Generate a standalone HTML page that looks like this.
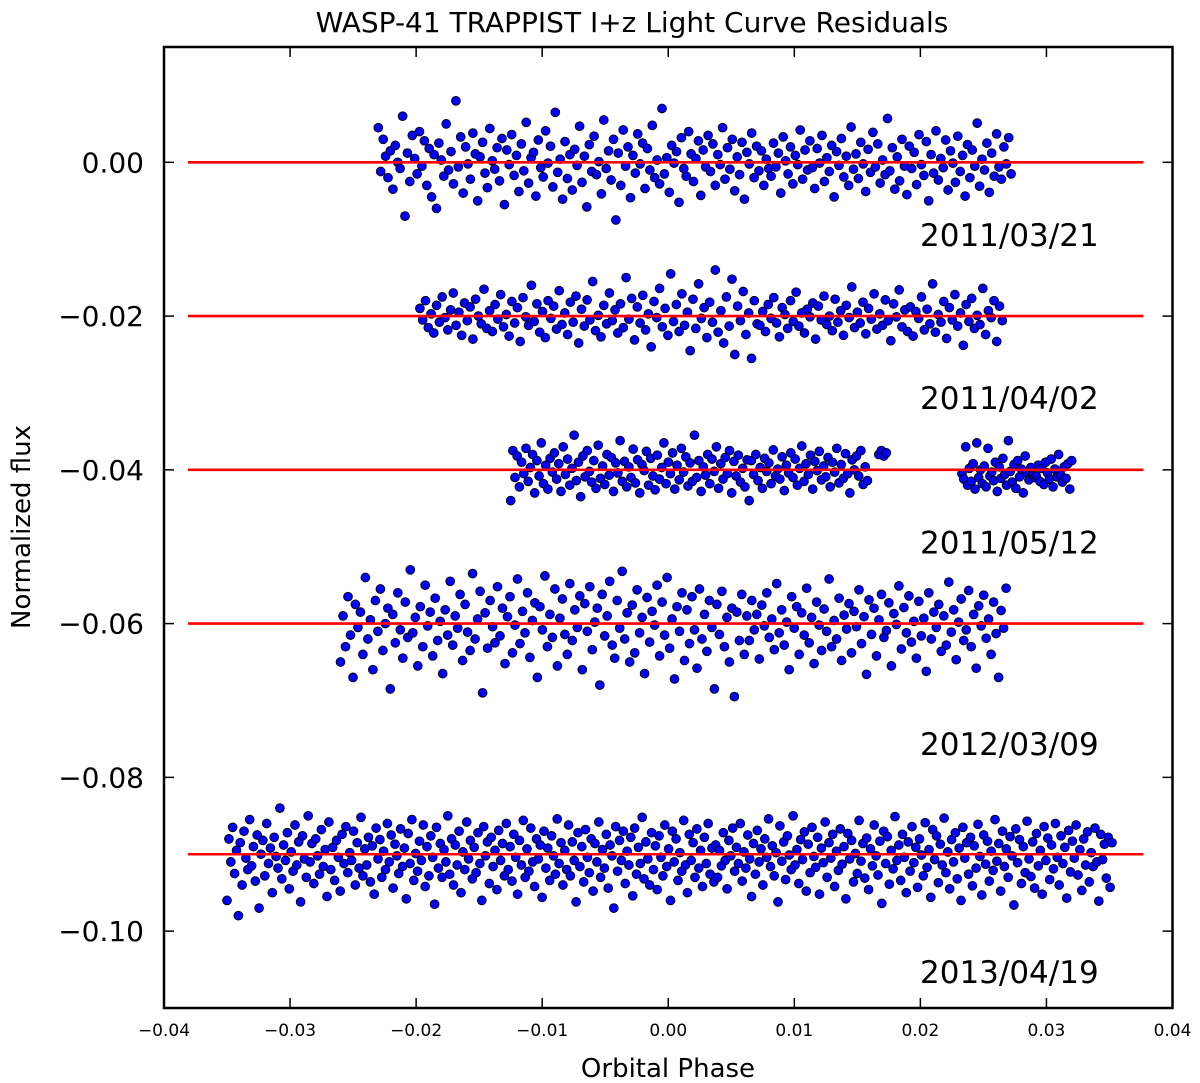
<!DOCTYPE html>
<html><head><meta charset="utf-8"><style>
body{margin:0;background:#fff;}
svg{display:block;font-family:"DejaVu Sans","Liberation Sans",sans-serif;}
</style></head><body>
<svg id="chart" width="1200" height="1083" viewBox="0 0 1200 1083" xmlns="http://www.w3.org/2000/svg">
<text x="632" y="32" font-size="28" text-anchor="middle">WASP-41 TRAPPIST I+z Light Curve Residuals</text>
<text transform="translate(30,527) rotate(-90)" font-size="26" text-anchor="middle">Normalized flux</text>
<text x="668" y="1077" font-size="26" text-anchor="middle">Orbital Phase</text>
<g id="marks"></g>
<g id="axes"></g>
</svg>
<script>
const xTicks=[-0.04,-0.03,-0.02,-0.01,0.00,0.01,0.02,0.03,0.04];
const xTickLabels=["\u22120.04","\u22120.03","\u22120.02","\u22120.01","0.00","0.01","0.02","0.03","0.04"];
const yTicks=[0,-0.02,-0.04,-0.06,-0.08,-0.10];
const yTickLabels=["0.00","\u22120.02","\u22120.04","\u22120.06","\u22120.08","\u22120.10"];
const nightLabels=["2011/03/21","2011/04/02","2011/05/12","2012/03/09","2013/04/19"];
const nightOffsets=[0,-0.02,-0.04,-0.06,-0.09];
const labelValues=[-0.0093,-0.0305,-0.0493,-0.0755,-0.1052];
// segments per night: [phaseStart, phaseEnd]; residuals in units of 1e-4
const segs1=[[-0.0230,0.0272]];
const res1=[45,-12,30,8,-20,15,-35,22,0,-8,60,-70,12,-25,35,5,-15,40,-5,28,-30,18,-45,10,-60,25,3,-18,50,-10,14,-28,80,-6,33,-40,20,-2,-22,38,11,-50,7,26,-14,-33,44,2,-9,19,-24,31,-55,16,-3,36,-17,9,-38,24,-11,52,-27,6,13,-44,29,-7,-19,41,-1,21,-32,65,-13,4,-48,27,-21,10,-36,17,-4,47,-26,8,-58,23,-12,34,-16,1,-41,55,-8,15,-23,30,-75,12,-30,42,-5,20,-46,9,-14,37,-2,25,-34,18,-10,48,-20,3,-28,70,-15,6,-39,22,-1,14,-52,32,-8,-18,40,11,-25,5,28,-43,16,-6,35,-12,24,-30,10,-3,45,-22,19,-9,30,-37,7,-16,26,-48,13,-2,38,-20,21,-11,15,-30,4,-8,
 -18,25,-6,12,-40,33,2,-15,20,-28,9,-3,42,-22,16,-10,28,-7,-34,18,-1,35,-25,6,-12,22,-45,14,-4,31,-19,8,-30,46,-9,11,-21,26,-2,-38,17,-13,39,-6,24,-27,3,-16,57,-11,19,-35,7,-24,30,-5,-42,21,-8,13,-29,36,-3,-17,27,-50,10,-14,41,-23,5,-7,29,-36,15,-1,-26,34,-12,9,-44,23,-20,16,-5,51,-31,4,-10,25,-39,12,-18,37,-6,-22,20,-2,32,-15];
const segs2=[[-0.0197,0.0265]];
const res2=[10,-5,20,-15,3,-22,14,-8,25,-2,-18,8,30,-12,5,-25,17,-6,12,-30,22,0,-10,35,-16,7,-20,15,-4,28,-14,2,-26,19,-9,11,-33,24,-1,-12,40,-7,16,-21,6,-28,20,-3,13,-17,33,-11,4,-24,18,-8,26,-35,9,-13,21,-5,45,-19,1,-27,14,-10,30,-6,8,-22,16,-15,50,-4,23,-31,12,-9,27,-18,3,-40,19,-2,36,-14,10,-25,55,-7,15,-20,29,-12,5,-45,22,-16,42,-3,11,-28,18,-8,60,-21,7,-35,25,-13,48,-50,13,-6,32,-24,4,-55,20,-10,
 -12,6,-20,15,-3,24,-9,-27,11,2,-16,20,-7,31,-13,4,-22,9,-1,17,-30,13,-5,26,-11,0,-19,22,-8,7,-25,14,-2,38,-15,5,-9,18,-23,10,-4,29,-17,3,-12,21,-6,-32,16,-1,34,-14,8,-20,12,-26,6,-3,25,-18,9,-10,42,-21,2,-8,19,-29,11,-5,28,-13,4,-38,15,-7,23,-16,1,-11,36,-24,7,-2,20,-33,13,-6];
const segs3=[[-0.0125,0.0158],[0.0167,0.0173],[0.0233,0.0320]];
const res3a=[-40,25,-10,18,-22,10,-5,28,-15,3,20,-30,12,-8,35,-18,6,-25,15,-3,22,-12,8,-28,30,-6,14,-20,2,45,-14,10,-35,18,-9,25,-2,-16,12,-24,32,-11,5,-19,20,-7,16,-28,9,-4,38,-15,11,-22,4,-10,27,-17,13,-30,7,-1,24,-20,15,-8,-26,19,-12,3,35,-18,10,-5,22,-25,6,-13,28,-3,17,-21,9,-15,45,-10,12,-28,4,-7,20,-18,14,-2,30,-24,8,-12,16,-5,25,-30,11,-8,19,-16,2,-22,13,-40,
 12,-6,20,-14,3,-24,15,-2,9,-18,26,-8,1,-12,17,-27,6,-4,22,-10,14,-20,2,31,-15,8,-6,19,-25,11,-1,24,-13,5,-9,16,-22,10,-3,28,-17,7,-11,21,-5,-30,13,0,18,-8,25,-19,4,-14];
const res3b=[20,25,18,22];
const res3c=[-5,-12,30,-20,2,-15,8,-25,35,-10,0,-18,5,-22,28,-8,-3,-14,10,-28,4,-11,15,-6,-20,38,-2,-16,7,-24,12,-9,1,-30,18,-4,-13,3,-7,-10,
 -8,6,-15,2,-19,10,-4,-12,14,-22,1,-9,20,-6,-16,4,-11,8,-25,12];
const segs4=[[-0.0260,0.0268]];
const res4=[-50,10,-30,35,-15,-70,25,-5,15,-40,60,-20,5,-60,30,-10,45,-35,0,20,-85,12,-25,40,-8,-45,28,-18,70,-12,8,-55,22,-30,50,-3,15,-42,33,-22,3,-65,18,-15,55,-28,10,-6,38,-48,25,-11,-35,65,-20,6,42,-90,14,-32,30,-4,-25,48,-16,20,-52,9,35,-38,-2,58,-26,16,-12,40,-44,4,27,-70,22,-8,62,-30,12,-18,45,-55,7,32,-14,-40,52,-22,18,-5,36,-60,26,-10,48,-34,2,20,-80,38,-16,10,55,-28,-45,30,-6,68,-20,14,-50,24,-38,44,-12,8,-65,34,-24,16,-2,50,-42,28,-15,60,-32,6,-72,22,-10,40,-48,18,-26,35,-8,-58,45,-20,12,-36,30,-5,-85,25,-14,42,-30,8,-50,20,-95,15,-22,38,-40,10,
 -22,30,-8,12,-46,24,-3,40,-18,6,-34,52,-12,18,-28,2,-60,35,-6,22,-40,14,-15,46,-25,8,-52,28,-2,-35,19,-10,58,-30,4,-20,33,-48,11,-7,26,-38,16,-4,44,-26,9,-66,31,-14,20,-42,5,38,-18,-9,27,-55,13,-1,49,-33,21,-12,36,-24,3,-45,29,-16,7,-62,40,-20,15,-5,25,-36,10,-28,54,-11,18,-47,2,32,-22,-8,43,-30,12,-58,23,-3,37,-19,6,-40,28,-13,-70,17,-6,46];
const segs5=[[-0.0350,0.0352]];
const res5=[-60,20,-10,35,-25,5,-80,15,-40,30,-5,-20,45,-15,10,-35,25,-70,0,18,-28,40,-12,8,-50,22,-3,-18,60,-32,12,-8,28,-45,3,-22,38,-14,16,-62,24,-6,-30,50,-10,14,-38,20,-2,-26,32,-16,6,-55,42,-20,9,-34,18,-4,-48,26,-12,36,-24,2,-8,30,-40,15,-18,48,-28,7,-14,22,-36,11,-52,34,-6,19,-30,4,-20,40,-10,25,-44,13,-2,-25,33,-16,8,-58,27,-12,45,-34,1,-22,17,-8,38,-42,10,-28,24,-4,-65,35,-18,14,-30,6,-10,50,-26,20,-40,12,-14,30,-50,3,-20,42,-6,18,-32,9,-24,28,-12,-60,36,-2,16,-38,22,-16,5,-46,31,-8,14,-28,40,-20,10,-35,26,-4,-52,18,-14,44,-30,7,-22,34,-10,-42,20,-6,12,-56,30,-18,8,-34,24,-2,-26,46,-12,15,-40,5,-20,38,-28,16,-8,-62,28,-16,10,-36,32,-4,-24,20,-48,14,-10,42,-30,6,-18,26,-44,12,-2,-70,36,-22,18,-8,30,-38,4,-14,22,-54,34,-26,9,-12,48,-32,16,-6,-40,28,-20,11,-46,24,-4,-28,38,-16,7,-60,30,-10,20,-34,2,-22,44,-14,-50,26,-8,15,-30,33,-18,5,-42,22,-12,40,-26,8,-36,
 12,-30,5,-15,28,-8,-45,18,-2,34,-22,9,-12,40,-35,3,-18,25,-6,-55,14,-26,31,-10,7,-40,20,-4,46,-16,11,-28,2,-62,37,-9,16,-33,24,-1,-20,50,-14,6,-38,19,-7,29,-48,13,-24,35,-3,-17,22,-52,8,-11,42,-30,15,-5,26,-42,4,-21,33,-13,10,-58,27,-6,18,-36,1,-25,44,-9,14,-31,21,-46,7,-15,38,-2,-27,17,-64,30,-12,23,-39,5,-19,49,-8,12,-34,26,-4,-50,16,-22,36,-11,9,-43,20,-1,-28,41,-17,6,-56,32,-7,24,-37,13,-14,47,-24,3,-45,19,-10,28,-32,8,-60,35,-5,15,-26,22,-41,11,-18,39,-3,-53,25,-13,17,-35,4,-21,45,-9,14,-48,30,-16,7,-30,23,-2,-66,33,-11,19,-38,10,-24,43,-6,-29,16,-44,27,-15,5,-52,36,-8,21,-33,12,-19,40,-4,-40,24,-12,9,-57,31,-23,17,-5,38,-27,6,-47,20,-14,29,-36,2,-16,34,-10,-61,26,-7,13,-31,22,-43,15];

const L=164,R=1172.5,T=47,B=1008;
const xMin=-0.04,xMax=0.04,yMin=-0.11,yMax=0.015;
const X=v=>L+(v-xMin)/(xMax-xMin)*(R-L);
const Y=v=>T+(yMax-v)/(yMax-yMin)*(B-T);
const NS="http://www.w3.org/2000/svg";
const marks=document.getElementById('marks'),axes=document.getElementById('axes');
function mk(tag,attrs,parent){const e=document.createElementNS(NS,tag);for(const k in attrs)e.setAttribute(k,attrs[k]);parent.appendChild(e);return e;}

const nights=[
 [[segs1[0],res1]],
 [[segs2[0],res2]],
 [[segs3[0],res3a],[segs3[1],res3b],[segs3[2],res3c]],
 [[segs4[0],res4]],
 [[segs5[0],res5]]
];
nights.forEach((night,ni)=>{
  const g=mk('g',{},marks);
  
  
  night.forEach(([seg,res])=>{
    const n=res.length;
    res.forEach((r,i)=>{
      const ph=n>1?seg[0]+(seg[1]-seg[0])*i/(n-1):seg[0];
      const c=mk('circle',{cx:X(ph).toFixed(1),cy:Y(nightOffsets[ni]+r*1e-4).toFixed(1),r:4.4,fill:'#0000ff',stroke:'#000','stroke-width':0.9},g);
      
      
    });
  });
  const ln=mk('line',{x1:X(-0.0381),x2:X(0.0377),y1:Y(nightOffsets[ni]),y2:Y(nightOffsets[ni]),stroke:'#ff0000','stroke-width':2.6},marks);
  
  
  const t=mk('text',{x:920,y:Y(labelValues[ni])+12,'font-size':31},marks);
  t.textContent=nightLabels[ni];
  
  
});

const fr=mk('rect',{x:L,y:T,width:R-L,height:B-T,fill:'none',stroke:'#000','stroke-width':2.5},axes);


xTicks.forEach((v,i)=>{
  const x=X(v);
  mk('line',{x1:x,x2:x,y1:B,y2:B-10,stroke:'#000','stroke-width':1.5},axes);
  mk('line',{x1:x,x2:x,y1:T,y2:T+10,stroke:'#000','stroke-width':1.5},axes);
  const t=mk('text',{x:x,y:B+28,'font-size':17,'text-anchor':'middle'},axes);
  t.textContent=xTickLabels[i];
  
  
});
yTicks.forEach((v,i)=>{
  const y=Y(v);
  mk('line',{x1:L,x2:L+10,y1:y,y2:y,stroke:'#000','stroke-width':1.5},axes);
  mk('line',{x1:R,x2:R-10,y1:y,y2:y,stroke:'#000','stroke-width':1.5},axes);
  const t=mk('text',{x:L-20,y:y+10,'font-size':28,'text-anchor':'end'},axes);
  t.textContent=yTickLabels[i];
  
  
});
</script>
</body></html>
